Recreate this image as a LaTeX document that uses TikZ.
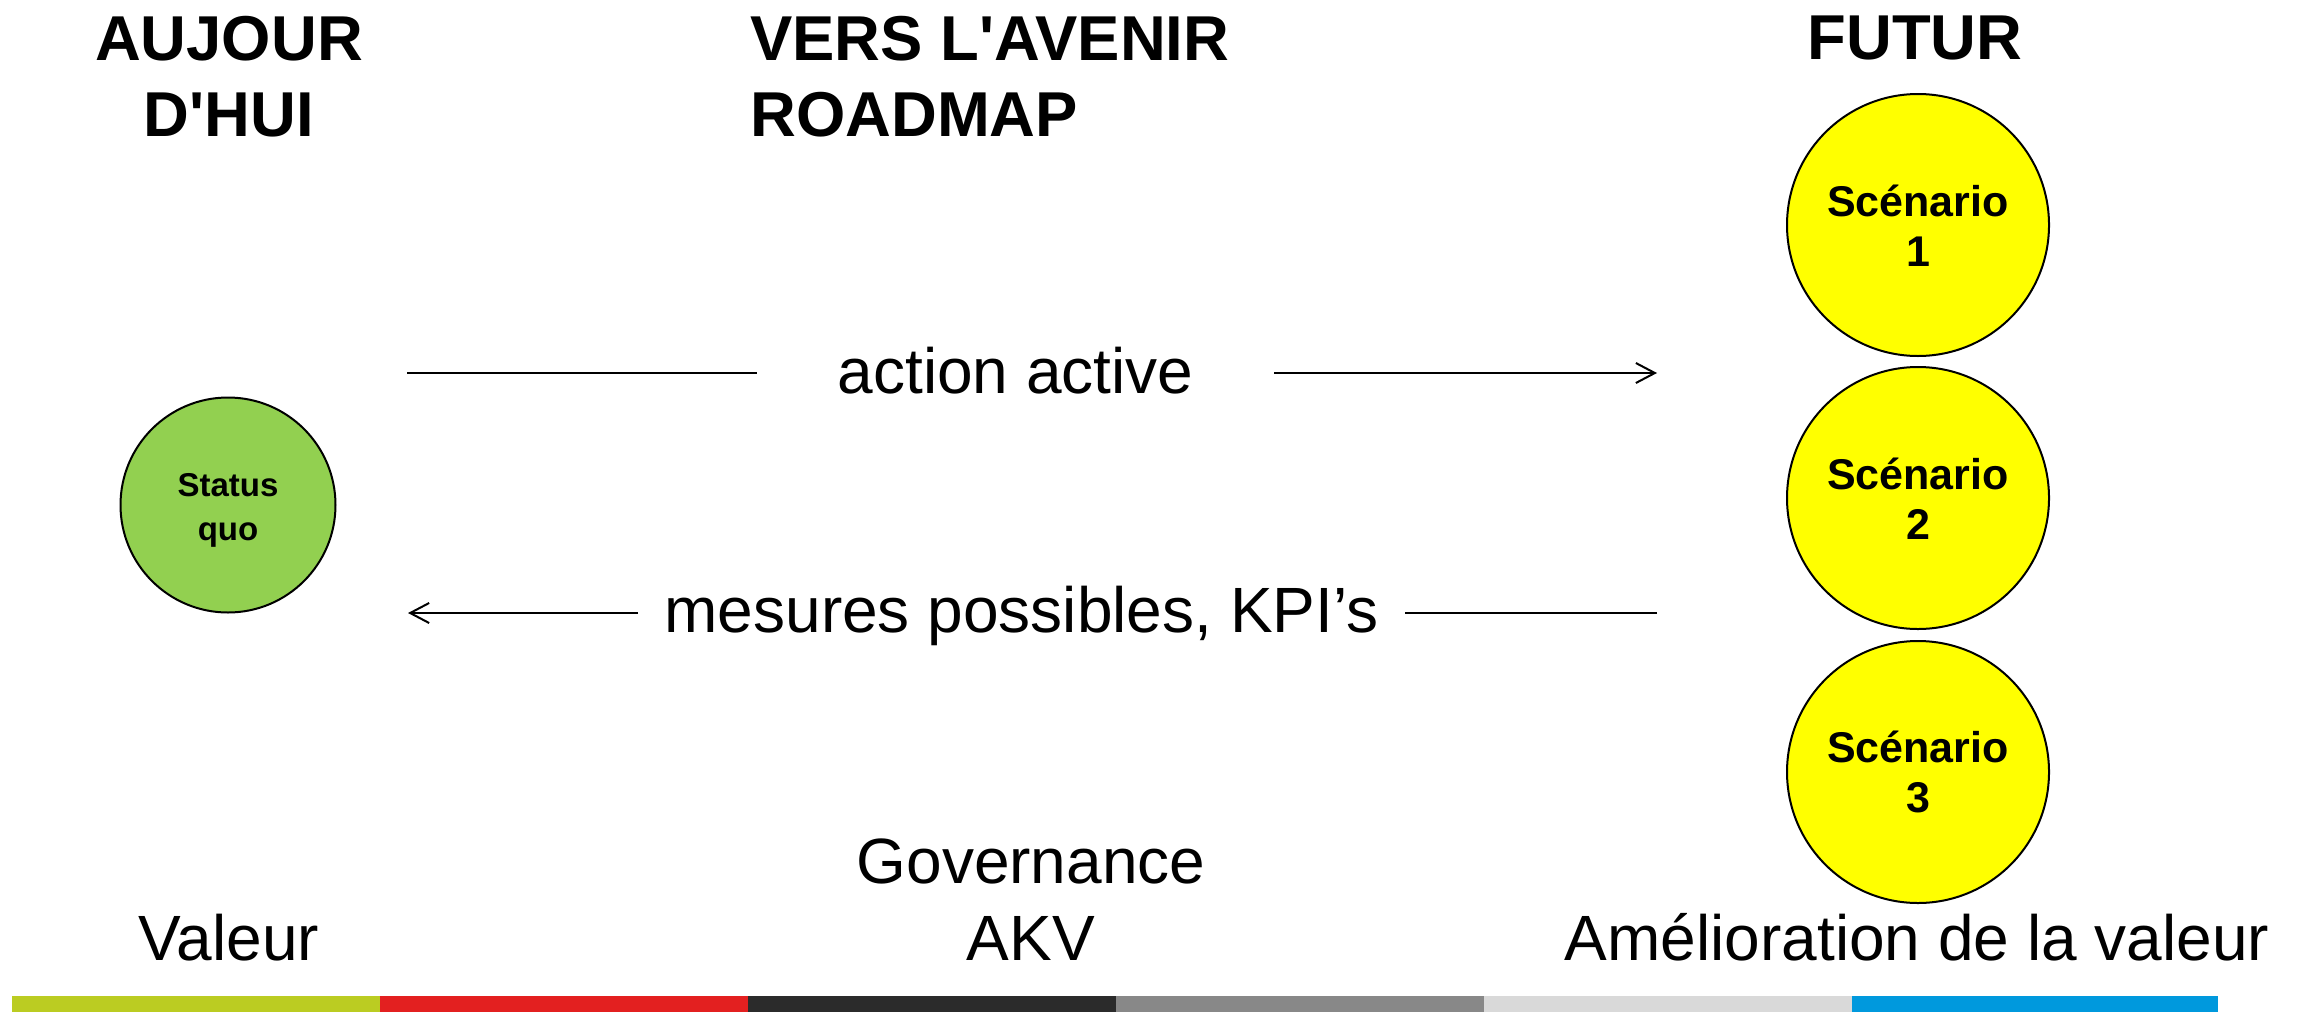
\documentclass[tikz,border=0pt]{standalone}
\usepackage{fontspec}
\newfontfamily\arial{Liberation Sans}
\usetikzlibrary{arrows.meta}
\definecolor{sqgreen}{RGB}{146,208,80}
\definecolor{scyellow}{RGB}{255,255,0}
\definecolor{barA}{RGB}{187,204,34}
\definecolor{barB}{RGB}{227,32,32}
\definecolor{barC}{RGB}{43,43,43}
\definecolor{barD}{RGB}{136,136,136}
\definecolor{barE}{RGB}{217,217,217}
\definecolor{barF}{RGB}{0,153,221}
\tikzset{
  head/.style={font=\arial\bfseries\fontsize{31.7}{38}\selectfont, inner sep=0pt, anchor=base},
  body/.style={font=\arial\fontsize{32}{38}\selectfont, inner sep=0pt, anchor=base},
  scen/.style={circle, draw=black, line width=1pt, fill=scyellow, minimum size=131pt, inner sep=0pt,
    align=center, font=\arial\bfseries\fontsize{21.5}{25}\selectfont},
  squo/.style={circle, draw=black, line width=1pt, fill=sqgreen, minimum size=107.5pt, inner sep=0pt,
    align=center, font=\arial\bfseries\fontsize{16.5}{22}\selectfont},
  conn/.style={line width=1pt},
  tipx/.style={-{Straight Barb[length=9.5pt,width=10pt]}},
}
\newcommand{\sqstrut}{\rule{0pt}{16.8pt}}
\newcommand{\scstrut}{\rule{0pt}{16.2pt}}
\begin{document}
\begin{tikzpicture}[x=0.5pt,y=-0.5pt]
\useasboundingbox (0,0) rectangle (2300,1012);
% headings
\node[head] (h1a) at (229,60) {AUJOUR};
\node[head] (h1b) at (229,136) {D'HUI};
\node[head, anchor=base west] (h2a) at (750,60) {VERS L'AVENIR};
\node[head, anchor=base west] (h2b) at (750,136) {ROADMAP};
\node[head] (h3) at (1915,59) {FUTUR};
% circles
\node[squo] (sq) at (228,505) {\sqstrut Status\\quo};
\node[scen] (s1) at (1918,225) {\scstrut Scénario\\1};
\node[scen] (s2) at (1918,498) {\scstrut Scénario\\2};
\node[scen] (s3) at (1918,772) {\scstrut Scénario\\3};
% arrows
\coordinate (t1) at (407,373);
\coordinate (t2) at (1657,373);
\node[body] (ta) at (1015.5,393) {action active};
\draw[conn] (t1) -- ([xshift=-40.25pt]ta.west |- t1);
\draw[conn,tipx] ([xshift=40.25pt]ta.east |- t2) -- (t2);
\coordinate (b1) at (1657,613);
\coordinate (b2) at (408,613);
\node[body] (mb) at (1021.5,632) {mesures possibles, KPI’s};
\draw[conn] (b1) -- ([xshift=13pt]mb.east |- b1);
\draw[conn,tipx] ([xshift=-13pt]mb.west |- b2) -- (b2);
% bottom labels
\node[body] (val) at (229,960) {Valeur};
\node[body] (gov) at (1031,883) {Governance};
\node[body] (akv) at (1031,960) {AKV};
\node[body] (ame) at (1917,960) {Amélioration de la valeur};
% colour bar
\fill[barA] (12,996) rectangle (380,1012);
\fill[barB] (380,996) rectangle (748,1012);
\fill[barC] (748,996) rectangle (1116,1012);
\fill[barD] (1116,996) rectangle (1484,1012);
\fill[barE] (1484,996) rectangle (1852,1012);
\fill[barF] (1852,996) rectangle (2218,1012);
\end{tikzpicture}
\end{document}
